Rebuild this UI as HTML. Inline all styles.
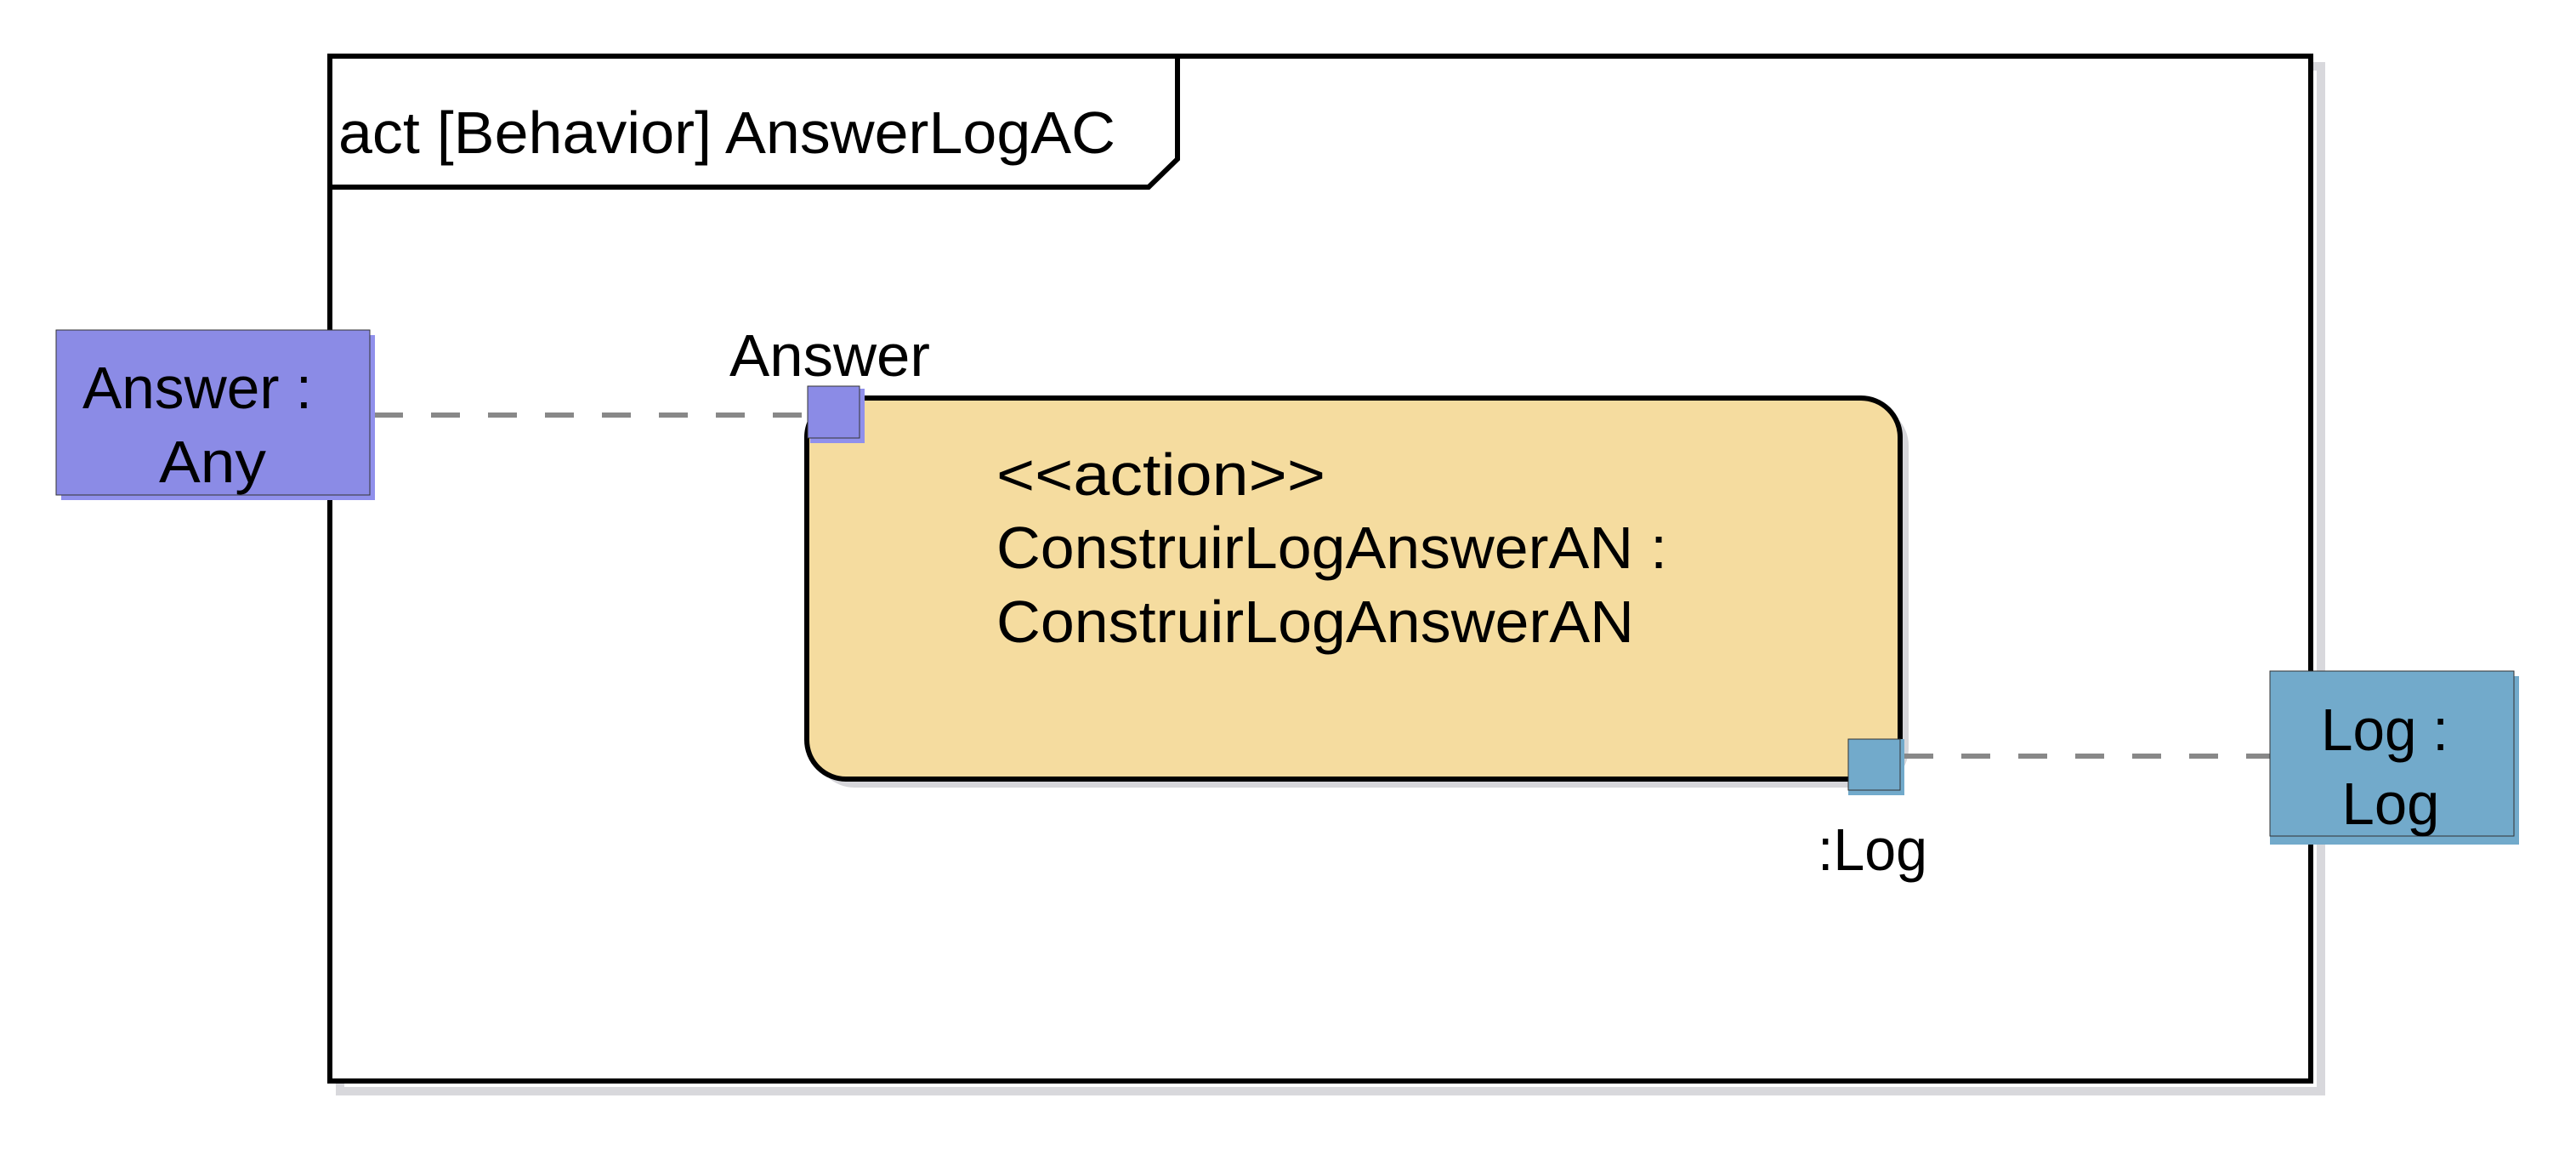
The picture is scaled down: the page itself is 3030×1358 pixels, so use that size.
<!DOCTYPE html>
<html><head><meta charset="utf-8"><style>html,body{margin:0;padding:0;background:#fff}svg{display:block}</style></head>
<body>
<svg width="3030" height="1358" viewBox="0 0 3030 1358" xmlns="http://www.w3.org/2000/svg" font-family="Liberation Sans, sans-serif" font-size="70">
<!-- frame shadow -->
<rect x="400" y="78" width="2330" height="1205" fill="none" stroke="#d8d8dc" stroke-width="10"/>
<rect x="388" y="66" width="2330" height="1205" fill="#fff" stroke="#000" stroke-width="6"/>
<!-- title tab -->
<polyline points="388,220 1351,220 1385,187 1385,66" fill="none" stroke="#000" stroke-width="6"/>
<text x="398" y="180" textLength="914" lengthAdjust="spacingAndGlyphs">act [Behavior] AnswerLogAC</text>
<!-- action shadow -->
<rect x="959" y="478" width="1286" height="448" rx="46" fill="#d6d6da"/>
<rect x="949" y="468" width="1286" height="448" rx="46" fill="#f5dc9f" stroke="#000" stroke-width="6"/>
<text x="1172" y="582" textLength="387" lengthAdjust="spacingAndGlyphs">&lt;&lt;action&gt;&gt;</text>
<text x="1172" y="668" textLength="789" lengthAdjust="spacingAndGlyphs">ConstruirLogAnswerAN :</text>
<text x="1172" y="755" textLength="750" lengthAdjust="spacingAndGlyphs">ConstruirLogAnswerAN</text>
<!-- dashed connectors -->
<line x1="440" y1="488" x2="948" y2="488" stroke="#888" stroke-width="6" stroke-dasharray="34,33"/>
<line x1="2240" y1="889" x2="2670" y2="889" stroke="#888" stroke-width="6" stroke-dasharray="34,33"/>
<!-- Answer : Any -->
<rect x="72" y="394" width="369" height="194" fill="#9090ec"/>
<rect x="66" y="388" width="369" height="194" fill="#8b8be6" stroke="#333" stroke-width="1"/>
<text x="232" y="480" text-anchor="middle" textLength="270" lengthAdjust="spacingAndGlyphs">Answer :</text>
<text x="250" y="567" text-anchor="middle" textLength="126" lengthAdjust="spacingAndGlyphs">Any</text>
<!-- Answer pin -->
<rect x="953" y="457" width="64" height="64" fill="#9090ec"/>
<rect x="950" y="454" width="61" height="61" fill="#8b8be6" stroke="#333" stroke-width="1"/>
<text x="858" y="442" textLength="236" lengthAdjust="spacingAndGlyphs">Answer</text>
<!-- Log pin -->
<rect x="2174" y="869" width="66" height="66" fill="#72aacb"/>
<rect x="2174" y="869" width="61" height="60" fill="#72aacb" stroke="#333" stroke-width="1"/>
<text x="2138" y="1023" textLength="129" lengthAdjust="spacingAndGlyphs">:Log</text>
<!-- Log : Log -->
<rect x="2670" y="795" width="293" height="198" fill="#72aacb"/>
<rect x="2670" y="789" width="287" height="194" fill="#72aacb" stroke="#333" stroke-width="1"/>
<text x="2805" y="882" text-anchor="middle" textLength="150" lengthAdjust="spacingAndGlyphs">Log :</text>
<text x="2812" y="969" text-anchor="middle" textLength="115" lengthAdjust="spacingAndGlyphs">Log</text>
</svg>
</body></html>
